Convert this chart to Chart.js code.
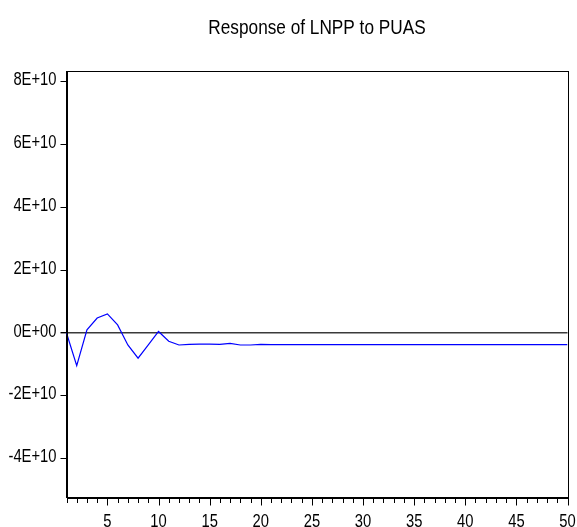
<!DOCTYPE html>
<html>
<head>
<meta charset="utf-8">
<script src="https://cdn.jsdelivr.net/npm/chart.js@4/dist/chart.umd.min.js"></script>
<style>
  html, body { margin: 0; padding: 0; background: #ffffff; }
  canvas { display: block; }
</style>
</head>
<body>
<canvas id="irf" width="577" height="527"></canvas>
<script>
// Impulse response: LNPP to a shock in PUAS, periods 1..50
const periods = [
    1, 2, 3, 4, 5, 6, 7, 8, 9, 10,
    11, 12, 13, 14, 15, 16, 17, 18, 19, 20,
    21, 22, 23, 24, 25, 26, 27, 28, 29, 30,
    31, 32, 33, 34, 35, 36, 37, 38, 39, 40,
    41, 42, 43, 44, 45, 46, 47, 48, 49, 50
];
const responseLNPP = [
    0, -1.04e10, 0.10e10, 0.48e10, 0.61e10, 0.26e10, -0.38e10, -0.80e10, -0.38e10, 0.05e10,
    -0.26e10, -0.38e10, -0.36e10, -0.35e10, -0.35e10, -0.36e10, -0.33e10, -0.38e10, -0.38e10, -0.36e10,
    -0.37e10, -0.37e10, -0.37e10, -0.37e10, -0.37e10, -0.37e10, -0.37e10, -0.37e10, -0.37e10, -0.37e10,
    -0.37e10, -0.37e10, -0.37e10, -0.37e10, -0.37e10, -0.37e10, -0.37e10, -0.37e10, -0.37e10, -0.37e10,
    -0.37e10, -0.37e10, -0.37e10, -0.37e10, -0.37e10, -0.37e10, -0.37e10, -0.37e10, -0.37e10, -0.37e10
];
const yTickValues = [-4e10, -2e10, 0, 2e10, 4e10, 6e10, 8e10];
const yTickLabels = ['-4E+10', '-2E+10', '0E+00', '2E+10', '4E+10', '6E+10', '8E+10'];
const xLabelEvery = 5;
const chartTitle = 'Response of LNPP to PUAS';

const FONT = "'Liberation Sans', Arial, sans-serif";
const NARROW = 0.82; // no Arial Narrow here, so squeeze the text sideways

const canvas = document.getElementById('irf');
const ctx2d = canvas.getContext('2d');
const rawFillText = ctx2d.fillText.bind(ctx2d);
ctx2d.fillText = function (text, x, y, maxWidth) {
    this.save();
    this.translate(x, y);
    this.scale(NARROW, 1);
    if (maxWidth !== undefined) rawFillText(text, 0, 0, maxWidth / NARROW);
    else rawFillText(text, 0, 0);
    this.restore();
};

// box round the plot area (EViews style frame)
const framePlugin = {
    id: 'frame',
    afterDraw(chart) {
        const { ctx, chartArea } = chart;
        ctx.save();
        ctx.strokeStyle = '#000000';
        ctx.lineWidth = 1;
        ctx.strokeRect(Math.round(chartArea.left) + 0.5, Math.round(chartArea.top) + 0.5,
            Math.round(chartArea.right - chartArea.left), Math.round(chartArea.bottom - chartArea.top));
        ctx.restore();
    }
};

// x ticks: short minor ticks, longer ones where a label sits
const xTickPlugin = {
    id: 'xTicks',
    afterDraw(chart) {
        const { ctx, chartArea } = chart;
        const xs = chart.scales.x;
        const base = Math.round(chartArea.bottom) + 0.5;
        ctx.save();
        ctx.strokeStyle = '#000000';
        ctx.lineWidth = 1;
        xs.ticks.forEach(t => {
            const px = Math.round(xs.getPixelForValue(t.value)) + 0.5;
            const len = t.value % xLabelEvery === 0 ? 7 : 4.5;
            ctx.beginPath();
            ctx.moveTo(px, base);
            ctx.lineTo(px, base + len);
            ctx.stroke();
        });
        ctx.restore();
    }
};

// title centred over the plot area, not the whole canvas
const titlePlugin = {
    id: 'plotTitle',
    afterDraw(chart) {
        const { ctx, chartArea } = chart;
        ctx.save();
        ctx.fillStyle = '#000000';
        ctx.font = '21px ' + FONT;
        ctx.textAlign = 'center';
        ctx.textBaseline = 'alphabetic';
        ctx.fillText(chartTitle, (chartArea.left + chartArea.right) / 2, 33.5);
        ctx.restore();
    }
};

new Chart(canvas, {
    type: 'line',
    data: {
        datasets: [{
            label: chartTitle,
            data: periods.map((p, i) => ({ x: p, y: responseLNPP[i] })),
            borderColor: '#0000ff',
            borderWidth: 1.2,
            pointRadius: 0,
            tension: 0,
            fill: false
        }]
    },
    options: {
        responsive: false,
        animation: false,
        layout: { padding: { top: 71, right: 9.5, left: 0, bottom: 0 } },
        plugins: {
            legend: { display: false },
            title: { display: false },
            tooltip: { enabled: false }
        },
        scales: {
            x: {
                type: 'linear',
                min: 1,
                max: 50,
                afterFit: scale => {
                    scale.height = 29.5;
                    scale.paddingLeft = 0;
                    scale.paddingRight = 0;
                },
                ticks: {
                    stepSize: 1,
                    autoSkip: false,
                    maxRotation: 0,
                    padding: 14,
                    color: '#000000',
                    font: { family: FONT, size: 18 },
                    callback: v => (v % xLabelEvery === 0 ? String(v) : '')
                },
                grid: { drawOnChartArea: false, drawTicks: false },
                border: { color: '#000000' }
            },
            y: {
                min: -5.24e10,
                max: 8.35e10,
                afterFit: scale => {
                    scale.width = 66.5;
                    scale.paddingTop = 0;
                    scale.paddingBottom = 0;
                },
                afterBuildTicks: scale => {
                    scale.ticks = yTickValues.map(v => ({ value: v }));
                },
                ticks: {
                    padding: 4,
                    labelOffset: -1.5,
                    color: '#000000',
                    font: { family: FONT, size: 18 },
                    callback: v => yTickLabels[yTickValues.indexOf(v)]
                },
                grid: {
                    color: c => (c.tick && c.tick.value === 0 ? '#3a3a3a' : 'rgba(0,0,0,0)'),
                    tickColor: '#000000',
                    tickLength: 6,
                    lineWidth: c => (c.tick && c.tick.value === 0 ? 1.4 : 1)
                },
                border: { color: '#000000' }
            }
        }
    },
    plugins: [framePlugin, xTickPlugin, titlePlugin]
});
</script>
</body>
</html>
